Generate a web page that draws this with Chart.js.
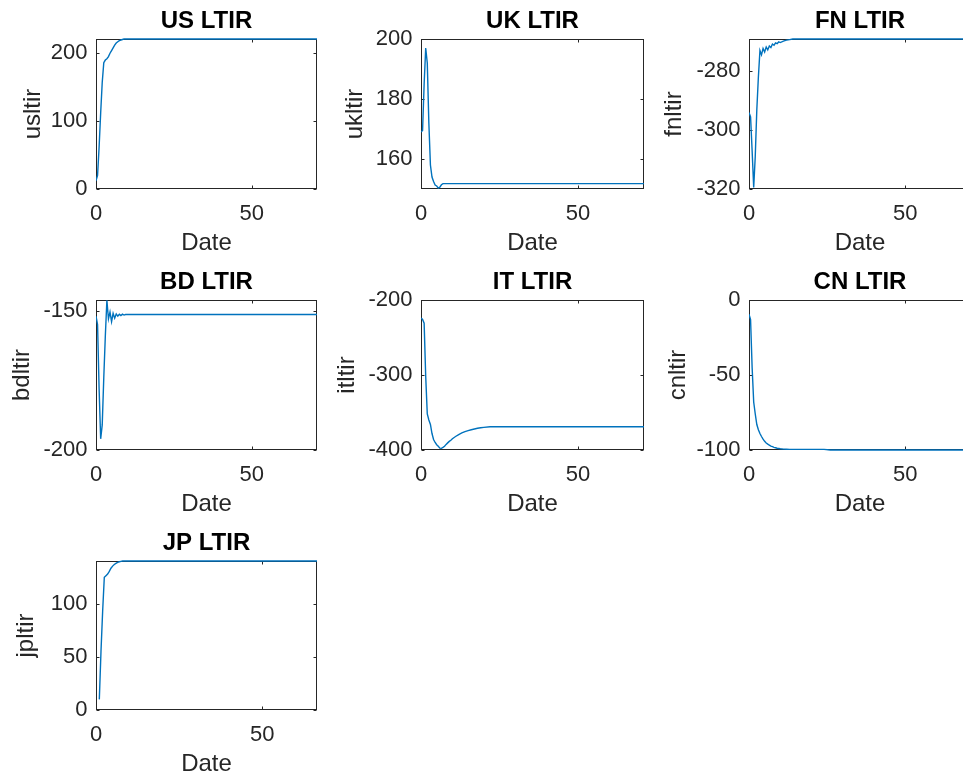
<!DOCTYPE html>
<html>
<head>
<meta charset="utf-8">
<script src="https://cdn.jsdelivr.net/npm/chart.js@4.4.0/dist/chart.umd.min.js"></script>
<style>
  html, body { margin: 0; padding: 0; background: #fff; }
  body { position: relative; width: 963px; height: 780px; overflow: hidden; }
  canvas { position: absolute; }
</style>
</head>
<body>
<script>
// sample dates (dense at the start where the responses move)
const dates = [0, 0.5, 1, 1.5, 2, 2.5, 3, 3.5, 4, 4.5, 5, 5.5, 6, 6.5, 7, 7.5, 8, 8.5, 9, 9.5, 10,
               11, 12, 13, 14, 15, 16, 17, 18, 19, 20, 22, 24, 26, 30, 40, 50, 60, 71];

const usltir = [12, 20, 62, 112, 157, 186, 190, 192, 195, 200, 204, 208, 212, 215, 217, 218.5, 219.5, 220.3, 221, 221, 221,
                221, 221, 221, 221, 221, 221, 221, 221, 221, 221, 221, 221, 221, 221, 221, 221, 221, 221];
const ukltir = [169, 169.5, 185, 197, 192, 172, 158, 154, 152.5, 151.3, 151, 150.3, 150.6, 151.4, 151.8, 151.8, 151.8, 151.8, 151.8, 151.8, 151.8,
                151.8, 151.8, 151.8, 151.8, 151.8, 151.8, 151.8, 151.8, 151.8, 151.8, 151.8, 151.8, 151.8, 151.8, 151.8, 151.8, 151.8, 151.8];
const fnltir = [-294, -295.5, -307, -319.5, -309, -293, -282, -273, -274.5, -272.3, -273.5, -271.8, -272.8, -271.5, -272, -270.8, -271.2, -270.4, -270.7, -270.1, -270.3,
                -269.8, -269.5, -269.3, -269.1, -269.1, -269.1, -269.1, -269.1, -269.1, -269.1, -269.1, -269.1, -269.1, -269.1, -269.1, -269.1, -269.1, -269.1];
const bdltir = [-152, -155, -178, -196, -191, -174, -159, -146.3, -153, -150.5, -154, -151, -152.7, -151.2, -152, -151.3, -151.8, -151.3, -151.6, -151.4, -151.4,
                -151.4, -151.4, -151.4, -151.4, -151.4, -151.4, -151.4, -151.4, -151.4, -151.4, -151.4, -151.4, -151.4, -151.4, -151.4, -151.4, -151.4, -151.4];
const itltir = [-224, -226, -231, -302, -352, -360, -366, -378, -386, -390, -393, -395, -397.5, -397.8, -396.5, -395, -392.5, -390.5, -388.5, -387, -385,
                -382, -379.5, -377.3, -375.6, -374.2, -373, -372, -371, -370.3, -369.8, -369, -369, -369, -369, -369, -369, -369, -369];
const cnltir = [-9.5, -13, -45, -68, -76, -83, -86.5, -89, -91, -92.8, -94.2, -95.3, -96.1, -96.8, -97.4, -97.8, -98.2, -98.5, -98.8, -99, -99.2,
                -99.4, -99.5, -99.6, -99.6, -99.6, -99.6, -99.6, -99.6, -99.6, -99.6, -99.6, -99.6, -100, -100, -100, -100, -100, -100];
const jpltir = [null, null, 10, 55, 93, 125, 126.5, 128, 130.5, 133.5, 135.5, 137, 138, 139, 139.6, 140, 140.3, 140.3, 140.3, 140.3, 140.3,
                140.3, 140.3, 140.3, 140.3, 140.3, 140.3, 140.3, 140.3, 140.3, 140.3, 140.3, 140.3, 140.3, 140.3, 140.3, 140.3, 140.3, 140.3];

// tick labels
const xTicks = [0, 50];
const usTicks = [0, 100, 200];
const ukTicks = [160, 180, 200];
const fnTicks = [-320, -300, -280];
const bdTicks = [-200, -150];
const itTicks = [-400, -300, -200];
const cnTicks = [-100, -50, 0];
const jpTicks = [0, 50, 100];

const FONT = 'Arial, "Liberation Sans", Helvetica, sans-serif';
const INK = '#262626';
const LINE = '#0072BD';
const Y_AXIS_W = 100;   // room left of the plot box
const X_AXIS_H = 75;    // room under the plot box
const TOP_PAD = 40;     // room for the panel title

// panel layout: plot box [left, top, width, height] in page pixels
const panels = [
  { title: 'US LTIR', ylab: 'usltir', values: usltir, yTicks: usTicks, yMin: 0,    yMax: 221,    xMax: 71,   box: [96, 39, 221, 150],  ylabOff: 63 },
  { title: 'UK LTIR', ylab: 'ukltir', values: ukltir, yTicks: ukTicks, yMin: 150,  yMax: 200,    xMax: 71,   box: [421, 39, 223, 150], ylabOff: 66 },
  { title: 'FN LTIR', ylab: 'fnltir', values: fnltir, yTicks: fnTicks, yMin: -320, yMax: -269.1, xMax: 71,   box: [749, 39, 222, 150], ylabOff: 75 },
  { title: 'BD LTIR', ylab: 'bdltir', values: bdltir, yTicks: bdTicks, yMin: -200, yMax: -146.2, xMax: 71,   box: [96, 300, 221, 150], ylabOff: 74 },
  { title: 'IT LTIR', ylab: 'itltir', values: itltir, yTicks: itTicks, yMin: -400, yMax: -200,   xMax: 71,   box: [421, 300, 223, 150], ylabOff: 74 },
  { title: 'CN LTIR', ylab: 'cnltir', values: cnltir, yTicks: cnTicks, yMin: -100, yMax: 0,      xMax: 71,   box: [749, 300, 222, 150], ylabOff: 71 },
  { title: 'JP LTIR', ylab: 'jpltir', values: jpltir, yTicks: jpTicks, yMin: 0,    yMax: 140.3,  xMax: 66.5, box: [96, 561, 221, 149], ylabOff: 70 }
];

// MATLAB-like box with inward ticks on all four sides, plus the bold title
const boxPlugin = {
  id: 'matlabBox',
  beforeDatasetsDraw(chart) {
    const { ctx, chartArea: a, scales: { x, y } } = chart;
    const L = Math.round(a.left) + 0.5, R = Math.round(a.right) - 0.5;
    const T = Math.round(a.top) + 0.5, B = Math.round(a.bottom) - 0.5;
    ctx.save();
    ctx.strokeStyle = INK;
    ctx.lineWidth = 1;
    ctx.strokeRect(L, T, R - L, B - T);
    ctx.beginPath();
    x.ticks.forEach(t => {
      const px = Math.round(x.getPixelForValue(t.value)) + 0.5;
      ctx.moveTo(px, B); ctx.lineTo(px, B - 3);
      ctx.moveTo(px, T); ctx.lineTo(px, T + 3);
    });
    y.ticks.forEach(t => {
      const py = Math.round(y.getPixelForValue(t.value)) + 0.5;
      ctx.moveTo(L, py); ctx.lineTo(L + 3, py);
      ctx.moveTo(R, py); ctx.lineTo(R - 3, py);
    });
    ctx.stroke();
    ctx.restore();
  },
  afterDraw(chart, args, opts) {
    const { ctx, chartArea: a } = chart;
    ctx.save();
    ctx.font = 'bold 24px ' + FONT;
    ctx.fillStyle = '#000';
    ctx.textAlign = 'center';
    ctx.textBaseline = 'middle';
    ctx.fillText(opts.text, (a.left + a.right) / 2, a.top - 18);
    ctx.restore();
  }
};

panels.forEach(p => {
  const [left, top, w, h] = p.box;
  const canvas = document.createElement('canvas');
  const cw = Y_AXIS_W + w + 10;
  const ch = TOP_PAD + h + X_AXIS_H;
  canvas.width = cw;
  canvas.height = ch;
  canvas.style.left = (left - Y_AXIS_W) + 'px';
  canvas.style.top = (top - TOP_PAD) + 'px';
  canvas.style.width = cw + 'px';
  canvas.style.height = ch + 'px';
  document.body.appendChild(canvas);

  new Chart(canvas.getContext('2d'), {
    type: 'line',
    data: {
      datasets: [{
        data: dates.map((d, i) => ({ x: d, y: p.values[i] })),
        borderColor: LINE,
        borderWidth: 1.4,
        pointRadius: 0,
        tension: 0,
        fill: false,
        spanGaps: false,
        clip: { left: 0, top: 3, right: 0, bottom: 3 }
      }]
    },
    options: {
      responsive: false,
      animation: false,
      devicePixelRatio: 1,
      layout: { padding: { top: TOP_PAD, right: 10, left: 0, bottom: 0 } },
      plugins: {
        legend: { display: false },
        tooltip: { enabled: false },
        matlabBox: { text: p.title }
      },
      scales: {
        x: {
          type: 'linear',
          min: 0,
          max: p.xMax,
          grid: { display: false, drawTicks: false },
          border: { display: false },
          afterBuildTicks: s => { s.ticks = xTicks.map(v => ({ value: v })); },
          afterFit: s => { s.height = X_AXIS_H; },
          ticks: {
            autoSkip: false, maxRotation: 0, padding: 11.5, color: INK,
            font: { family: FONT, size: 22 },
            callback: v => String(v)
          },
          title: {
            display: true, text: 'Date', color: INK,
            font: { family: FONT, size: 24 },
            padding: { top: 0, bottom: 6.6 }
          }
        },
        y: {
          type: 'linear',
          min: p.yMin,
          max: p.yMax,
          grid: { display: false, drawTicks: false },
          border: { display: false },
          afterBuildTicks: s => { s.ticks = p.yTicks.map(v => ({ value: v })); },
          afterFit: s => { s.width = Y_AXIS_W; },
          ticks: {
            autoSkip: false, padding: 8.5, color: INK,
            font: { family: FONT, size: 22 },
            callback: v => String(v)
          },
          title: {
            display: true, text: p.ylab, color: INK,
            font: { family: FONT, size: 24 },
            padding: { top: Y_AXIS_W - p.ylabOff - 14.4, bottom: 0 }
          }
        }
      }
    },
    plugins: [boxPlugin]
  });
});
</script>
</body>
</html>
